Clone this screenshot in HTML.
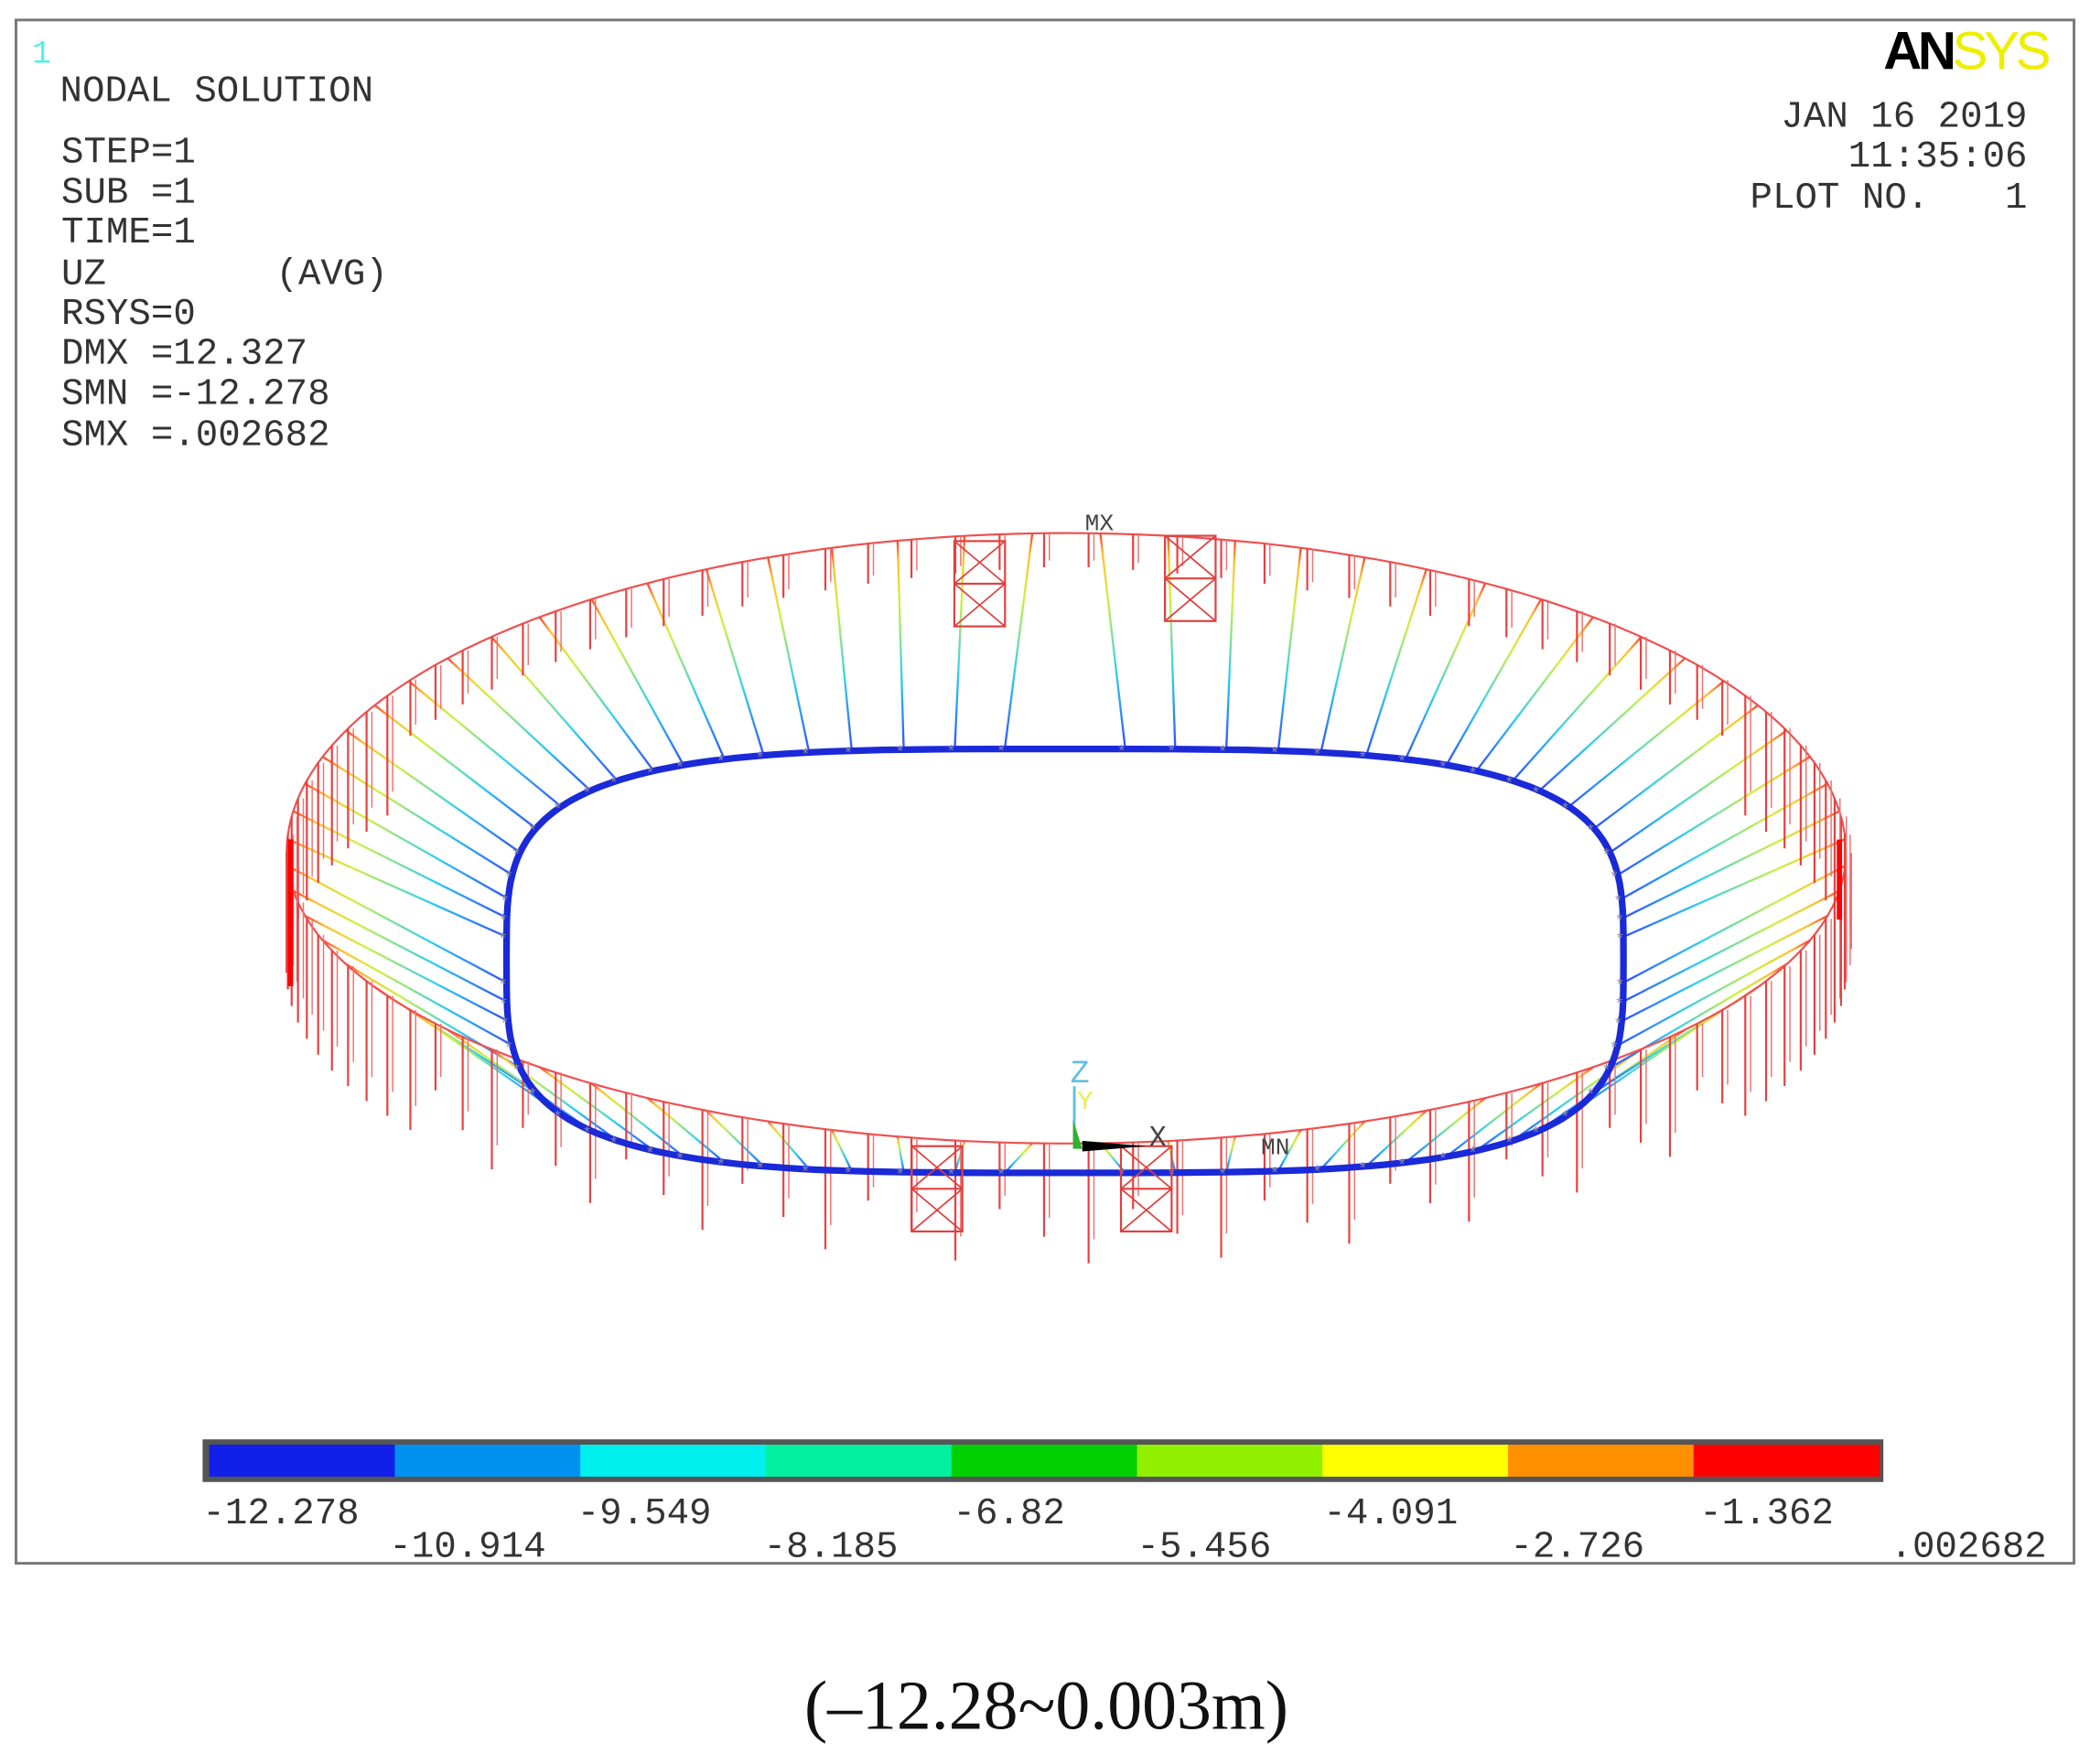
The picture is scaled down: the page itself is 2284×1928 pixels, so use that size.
<!DOCTYPE html>
<html><head><meta charset="utf-8">
<style>
html,body{margin:0;padding:0;background:#fff;}
svg{display:block;}
.m{font-family:"Liberation Mono",monospace;font-size:28px;fill:#333;}
</style></head>
<body>
<svg id="s" width="2284" height="1928" viewBox="0 0 1568 1323.6" preserveAspectRatio="none" xmlns="http://www.w3.org/2000/svg">
<defs></defs>
<rect x="12" y="15" width="1544" height="1158" fill="#fff" stroke="#777" stroke-width="2"/>
<text x="24" y="47" font-family="Liberation Mono,monospace" font-size="24" fill="#5ee">1</text>
<g class="m">
<text x="45" y="76">NODAL SOLUTION</text>
<text x="46" y="122">STEP=1</text>
<text x="46" y="152">SUB =1</text>
<text x="46" y="182">TIME=1</text>
<text x="46" y="213">UZ</text>
<text x="207" y="213">(AVG)</text>
<text x="46" y="243">RSYS=0</text>
<text x="46" y="273">DMX =12.327</text>
<text x="46" y="303">SMN =-12.278</text>
<text x="46" y="334">SMX =.002682</text>
<text x="1521" y="95" text-anchor="end">JAN 16 2019</text>
<text x="1521" y="125" text-anchor="end">11:35:06</text>
<text x="1313" y="156">PLOT NO.</text>
<text x="1521" y="156" text-anchor="end">1</text>
</g>
<text x="1413" y="52" font-family="Liberation Sans,sans-serif" font-size="40" font-weight="bold" letter-spacing="-3"><tspan fill="#000">AN</tspan><tspan fill="#ee0" font-weight="normal">SYS</tspan></text>
<g id="geo"></g>
<rect x="152" y="1080" width="1261" height="32" fill="#555"/>
<g id="cb"></g>
<g class="m">
<text x="152" y="1143">-12.278</text>
<text x="433" y="1143">-9.549</text>
<text x="715" y="1143">-6.82</text>
<text x="993" y="1143">-4.091</text>
<text x="1275" y="1143">-1.362</text>
<text x="292" y="1168">-10.914</text>
<text x="573" y="1168">-8.185</text>
<text x="853" y="1168">-5.456</text>
<text x="1133" y="1168">-2.726</text>
<text x="1418" y="1168">.002682</text>
</g>
<text x="785" y="1297" text-anchor="middle" font-family="Liberation Serif,serif" font-size="52" fill="#111">(–12.28~0.003m)</text>
</svg>
<script>
var NS="http://www.w3.org/2000/svg";
function el(p,t,a){var e=document.createElementNS(NS,t);for(var k in a)e.setAttribute(k,a[k]);p.appendChild(e);return e;}
var cb=document.getElementById('cb');
var cols=['#1020e8','#0090f0','#00f0f0','#00f0a0','#00d000','#90f000','#ffff00','#ff9000','#ff0000'];
for(var i=0;i<9;i++)el(cb,'rect',{x:157+i*139.2,y:1084,width:139.8,height:24,fill:cols[i]});
var g=document.getElementById('geo');
var defs=document.querySelector('defs');
function outer(t){var c=Math.cos(t),s=Math.sin(t);return [800+585*c,640-(s>0?240:218)*s];}
function inner(t){var c=Math.cos(t),s=Math.sin(t);
 var px=Math.sign(c)*Math.pow(Math.abs(c),0.55),py=Math.sign(s)*Math.pow(Math.abs(s),0.55);
 return [799+419*px,720-(s>0?158:160)*py];}
function innerR(t){var c=Math.cos(t),s=Math.sin(t);
 var px=Math.sign(c)*Math.pow(Math.abs(c),0.8),py=Math.sign(s)*Math.pow(Math.abs(s),0.8);
 var p=[799+419*px,720-(s>0?158:160)*py];
 var best=null,bd=1e9;for(var k=0;k<360;k++){var q=inner(k/360*2*Math.PI);var d=(q[0]-p[0])*(q[0]-p[0])+(q[1]-p[1])*(q[1]-p[1]);if(d<bd){bd=d;best=q;}}
 return best;}
var N=72;
for(var i=0;i<N;i++){var t=(i+0.5)/N*2*Math.PI;var o=outer(t),n=innerR(t);
 var id='g'+i;var lg=el(defs,'linearGradient',{id:id,gradientUnits:'userSpaceOnUse',x1:n[0],y1:n[1],x2:o[0],y2:o[1]});
 [['0','#3050ff'],['0.35','#30d0f0'],['0.7','#d0f040'],['0.9','#ffc030'],['1','#ff4030']].forEach(function(s){el(lg,'stop',{offset:s[0],'stop-color':s[1]});});
 el(g,'line',{x1:n[0],y1:n[1],x2:o[0],y2:o[1],stroke:'url(#'+id+')','stroke-width':1.6});
}
var d='';for(var i=0;i<=200;i++){var p=outer(i/200*2*Math.PI);d+=(i?'L':'M')+p[0].toFixed(1)+','+p[1].toFixed(1);}
el(g,'path',{d:d,fill:'none',stroke:'#f05050','stroke-width':1.5});
for(var i=0;i<110;i++){var t=i/110*2*Math.PI;var p=outer(t);var s=Math.sin(t);
 var L=s>0?25+20*Math.abs(Math.cos(t)):50+20*((i*7)%3);
 if(Math.abs(Math.cos(t))>0.85)L=90;
 el(g,'line',{x1:p[0],y1:p[1],x2:p[0],y2:p[1]+L,stroke:'#e84040','stroke-width':1.5});
 el(g,'line',{x1:p[0]+4,y1:p[1],x2:p[0]+4,y2:p[1]+L*0.8,stroke:'#f07070','stroke-width':1});}
el(g,'line',{x1:218,y1:630,x2:218,y2:740,stroke:'#f00','stroke-width':4});
el(g,'line',{x1:1380,y1:630,x2:1380,y2:690,stroke:'#f00','stroke-width':4});
var d3='';for(var i=0;i<=240;i++){var p=inner(i/240*2*Math.PI);d3+=(i?'L':'M')+p[0].toFixed(1)+','+p[1].toFixed(1);}
el(g,'path',{d:d3,fill:'none',stroke:'#1a2ad8','stroke-width':5});
for(var i=0;i<N;i++){var p=innerR((i+0.5)/N*2*Math.PI);el(g,'text',{x:p[0]-5,y:p[1]+5,'font-size':12,fill:'#88a','font-family':'Liberation Sans'}).textContent='*';}
function box(x,y,w,h){el(g,'rect',{x:x,y:y,width:w,height:h,fill:'none',stroke:'#e04040','stroke-width':1.5});
 el(g,'line',{x1:x,y1:y+h/2,x2:x+w,y2:y+h/2,stroke:'#e04040','stroke-width':1.5});
 el(g,'path',{d:'M'+x+','+y+'L'+(x+w)+','+(y+h/2)+'M'+(x+w)+','+y+'L'+x+','+(y+h/2)+'M'+x+','+(y+h/2)+'L'+(x+w)+','+(y+h)+'M'+(x+w)+','+(y+h/2)+'L'+x+','+(y+h),stroke:'#e04040','stroke-width':1.2,fill:'none'});}
box(716,406,38,64);box(874,402,38,64);box(684,860,38,64);box(841,860,38,64);
el(g,'line',{x1:806,y1:860,x2:806,y2:815,stroke:'#60c0e0','stroke-width':2});
el(g,'path',{d:'M805,862 L805,840 L812,862Z',fill:'#30b030'});
el(g,'path',{d:'M812,856 L860,860 L812,864Z',fill:'#000'});
el(g,'text',{x:803,y:812,'font-size':24,fill:'#60c0e0','font-family':'Liberation Mono'}).textContent='Z';
el(g,'text',{x:808,y:832,'font-size':20,fill:'#ee4','font-family':'Liberation Mono'}).textContent='Y';
el(g,'text',{x:862,y:860,'font-size':22,fill:'#444','font-family':'Liberation Mono'}).textContent='X';
el(g,'text',{x:814,y:398,'font-size':18,fill:'#444','font-family':'Liberation Mono'}).textContent='MX';
el(g,'text',{x:946,y:866,'font-size':18,fill:'#444','font-family':'Liberation Mono'}).textContent='MN';
</script>
</body></html>
